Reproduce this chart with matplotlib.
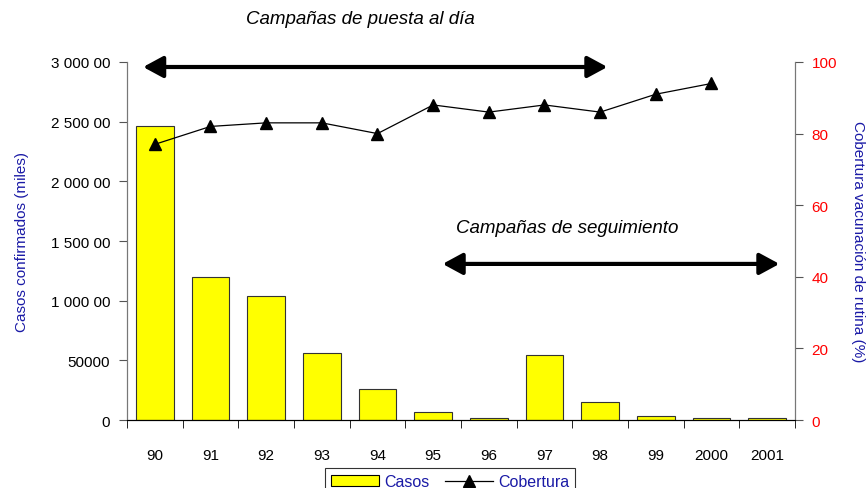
import matplotlib.pyplot as plt
from matplotlib.ticker import FixedLocator, FixedFormatter
from matplotlib.patches import Patch
from matplotlib.lines import Line2D

plt.rcParams['font.family'] = ['Liberation Sans', 'DejaVu Sans']

# -----------------------------
# Data
# -----------------------------
years = ['90', '91', '92', '93', '94', '95', '96', '97', '98', '99', '2000', '2001']
casos = [246000, 120000, 104000, 56000, 26000, 6700, 2000, 54500, 15000, 3000, 1500, 1500]
cobertura = [77, 82, 83, 83, 80, 88, 86, 88, 86, 91, 94]

left_ticks = [0, 50000, 100000, 150000, 200000, 250000, 300000]
left_labels = ['0', '50000', '1 000 00', '1 500 00', '2 000 00', '2 500 00', '3 000 00']

blue = '#1a1aa6'

# -----------------------------
# Figure
# -----------------------------
fig = plt.figure(figsize=(8.68, 4.89), dpi=100)
ax = fig.add_axes([0.1463, 0.139, 0.7696, 0.7322])
ax2 = ax.twinx()

x = list(range(len(years)))
ax.bar(x, casos, width=0.68, color='#ffff00', edgecolor='#333333', linewidth=0.8, zorder=2)
ax2.plot(x[:len(cobertura)], cobertura, color='black', linewidth=0.9,
         marker='^', markersize=9, zorder=3)

ax.set_xlim(-0.5, len(years) - 0.5)
ax.set_ylim(0, 300000)
ax2.set_ylim(0, 100)

# left axis
ax.yaxis.set_major_locator(FixedLocator(left_ticks))
ax.yaxis.set_major_formatter(FixedFormatter(left_labels))
ax.tick_params(axis='y', labelsize=11, length=6, color='#555555', pad=6)
ax.set_ylabel('Casos confirmados (miles)', color=blue, fontsize=11, labelpad=16)

# x axis: labels at centres, ticks at boundaries
ax.set_xticks(x)
ax.set_xticklabels(years, fontsize=11)
ax.set_xticks([i - 0.5 for i in range(len(years) + 1)], minor=True)
ax.tick_params(axis='x', which='major', length=0, pad=20)
ax.tick_params(axis='x', which='minor', length=6, color='black')

# right axis
ax2.set_yticks([0, 20, 40, 60, 80, 100])
ax2.tick_params(axis='y', labelsize=11, labelcolor='red', length=6, color='#555555', pad=6)
ax2.set_ylabel('Cobertura vacunación de rutina (%)', color=blue, fontsize=11,
               rotation=270, labelpad=20)

for a in (ax, ax2):
    a.spines['top'].set_visible(False)
    a.spines['left'].set_color('#777777')
    a.spines['right'].set_color('#777777')
    a.spines['bottom'].set_color('black')

# -----------------------------
# Annotations
# -----------------------------
arrow = dict(arrowstyle='<|-|>,head_length=1.2,head_width=0.65', color='black', lw=3,
             shrinkA=0, shrinkB=0)
ax2.annotate('', xy=(-0.21, 98.6), xytext=(8.13, 98.6), arrowprops=arrow, annotation_clip=False)
ax2.annotate('', xy=(5.17, 43.6), xytext=(11.22, 43.6), arrowprops=arrow, annotation_clip=False)

fig.text(360 / 868, 1 - 20 / 489, 'Campañas de puesta al día', ha='center', va='center',
         fontsize=13.5, style='italic')
ax2.text(7.4, 53.9, 'Campañas de seguimiento', ha='center', va='center',
         fontsize=13.5, style='italic')

# -----------------------------
# Legend
# -----------------------------
handles = [Patch(facecolor='#ffff00', edgecolor='black', linewidth=0.8),
           Line2D([], [], color='black', marker='^', markersize=9, linewidth=0.9)]
leg = fig.legend(handles, ['Casos', 'Cobertura'], loc='upper center', ncol=2,
                 bbox_to_anchor=(450 / 868, 1 - 461 / 489), fontsize=11.5,
                 frameon=True, fancybox=False, edgecolor='black',
                 handlelength=3, columnspacing=1.0, handletextpad=0.3, borderpad=0.4)
leg.get_frame().set_linewidth(0.8)
for t in leg.get_texts():
    t.set_color(blue)

fig.savefig('out.png', dpi=100)
